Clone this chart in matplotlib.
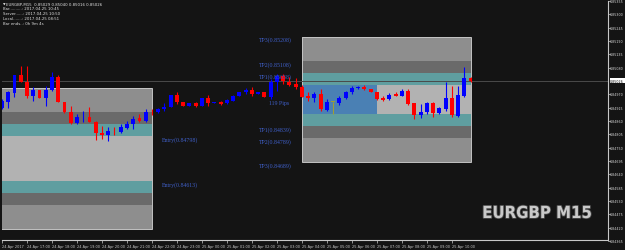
import numpy as np
import matplotlib.pyplot as plt
import matplotlib.patheffects as pe
from matplotlib.patches import Rectangle

# barre M15 EURGBP, dal 24 Apr 16:00
opens = [0.84914, 0.84938, 0.84976, 0.85050, 0.85021, 0.84963, 0.84988, 0.84955, 0.84988, 0.85042,
         0.84938, 0.84897, 0.84852, 0.84876, 0.84876, 0.84856, 0.84810, 0.84802, 0.84819, 0.84815,
         0.84831, 0.84848, 0.84872, 0.84860, 0.84897, 0.84897, 0.84910, 0.84918, 0.84967, 0.84938,
         0.84922, 0.84934, 0.84922, 0.84955, 0.84934, 0.84938, 0.84934, 0.84943, 0.84963, 0.84980,
         0.84988, 0.84971, 0.84980, 0.84959, 0.85021, 0.85046, 0.85021, 0.85013, 0.85002, 0.84963,
         0.84955, 0.84971, 0.84905, 0.84938, 0.84934, 0.84955, 0.84980, 0.84996, 0.85002, 0.84992,
         0.84980, 0.84955, 0.84951, 0.84971, 0.84963, 0.84984, 0.84934, 0.84885, 0.84897, 0.84934,
         0.84893, 0.84910, 0.84955, 0.84881, 0.84963, 0.85037]
highs = [0.84951, 0.84984, 0.85050, 0.85087, 0.85087, 0.85000, 0.84988, 0.85004, 0.85062, 0.85050,
         0.84938, 0.84922, 0.84889, 0.84901, 0.84918, 0.84860, 0.84839, 0.84835, 0.84835, 0.84848,
         0.84860, 0.84881, 0.84889, 0.84910, 0.84910, 0.84914, 0.84934, 0.84967, 0.84980, 0.84938,
         0.84934, 0.84938, 0.84955, 0.84967, 0.84938, 0.84943, 0.84951, 0.84967, 0.84980, 0.84996,
         0.85000, 0.84980, 0.84980, 0.85033, 0.85054, 0.85054, 0.85042, 0.85037, 0.85008, 0.84980,
         0.84980, 0.84992, 0.84951, 0.84938, 0.84963, 0.84984, 0.85004, 0.85004, 0.85008, 0.84992,
         0.84980, 0.84963, 0.84976, 0.84980, 0.84992, 0.84992, 0.84934, 0.84930, 0.84938, 0.84938,
         0.84918, 0.85021, 0.85004, 0.85004, 0.85083, 0.85040]
lows = [0.84910, 0.84914, 0.84959, 0.85021, 0.84955, 0.84943, 0.84955, 0.84922, 0.84984, 0.84938,
        0.84893, 0.84848, 0.84848, 0.84856, 0.84856, 0.84782, 0.84786, 0.84777, 0.84802, 0.84810,
        0.84827, 0.84827, 0.84856, 0.84856, 0.84885, 0.84893, 0.84901, 0.84918, 0.84930, 0.84922,
        0.84922, 0.84918, 0.84922, 0.84922, 0.84934, 0.84926, 0.84930, 0.84943, 0.84963, 0.84971,
        0.84963, 0.84971, 0.84959, 0.84951, 0.84984, 0.85013, 0.85004, 0.84992, 0.84959, 0.84943,
        0.84938, 0.84901, 0.84901, 0.84889, 0.84926, 0.84951, 0.84971, 0.84992, 0.84988, 0.84980,
        0.84947, 0.84943, 0.84947, 0.84963, 0.84963, 0.84926, 0.84868, 0.84872, 0.84889, 0.84876,
        0.84889, 0.84901, 0.84876, 0.84876, 0.84959, 0.85020]
closes = [0.84943, 0.84980, 0.85050, 0.85021, 0.84963, 0.84988, 0.84955, 0.84988, 0.85042, 0.84938,
          0.84897, 0.84852, 0.84876, 0.84877, 0.84856, 0.84810, 0.84802, 0.84819, 0.84818, 0.84835,
          0.84848, 0.84868, 0.84860, 0.84897, 0.84896, 0.84910, 0.84918, 0.84967, 0.84938, 0.84922,
          0.84934, 0.84922, 0.84955, 0.84934, 0.84938, 0.84930, 0.84947, 0.84963, 0.84980, 0.84988,
          0.84971, 0.84980, 0.84959, 0.85021, 0.85046, 0.85025, 0.85008, 0.85000, 0.84961, 0.84955,
          0.84971, 0.84910, 0.84938, 0.84938, 0.84955, 0.84980, 0.84996, 0.85000, 0.84992, 0.84980,
          0.84951, 0.84947, 0.84967, 0.84963, 0.84984, 0.84930, 0.84885, 0.84897, 0.84934, 0.84893,
          0.84914, 0.84955, 0.84885, 0.84967, 0.85037, 0.85026]

time_labels = ["24 Apr 2017", "24 Apr 17:00", "24 Apr 18:00", "24 Apr 19:00", "24 Apr 20:00",
               "24 Apr 21:00", "24 Apr 22:00", "24 Apr 23:00", "25 Apr 00:00", "25 Apr 01:00",
               "25 Apr 02:00", "25 Apr 03:00", "25 Apr 04:00", "25 Apr 05:00", "25 Apr 06:00",
               "25 Apr 07:00", "25 Apr 08:00", "25 Apr 09:00", "25 Apr 10:00"]
price_ticks = [0.85355, 0.85300, 0.85245, 0.85190, 0.85135, 0.85080, 0.84970, 0.84915, 0.84860,
               0.84805, 0.84750, 0.84695, 0.84640, 0.84585, 0.84530, 0.84475, 0.84420, 0.84365]
bid = 0.85026

# zone: (barra inizio, barra fine, entry alta, entry bassa)
box_left = (-8, 24, 0.84798, 0.84613)
box_right = (48, 75, 0.85008, 0.84889)
box_right_split = 60
tp_offsets = [0.0005, 0.0010, 0.0020]

header = ["EURGBP,M15  0.85029 0.85040 0.85016 0.85026",
          "Bar..........: 2017.04.25 10:45",
          "Server......: 2017.04.25 10:50",
          "Local.......: 2017.04.25 08:51",
          "Bar ends..: 0h 9m 4s"]

BG = "#141414"
MED, DARK, TEAL, LIGHT, STEEL = "#8e8e8e", "#6a6a6a", "#5f9ea0", "#b2b2b2", "#4a80b4"
TXT_BLUE = "#3f5fc8"

fig = plt.figure(figsize=(6.25, 2.51), dpi=100, facecolor=BG)
ax = fig.add_axes([2 / 625, 10 / 251, 606 / 625, 239 / 251])
ax.set_facecolor(BG)
ax.set_xlim(0.05, 97.0)
ax.set_ylim(0.84369, 0.85355)


def draw_box(box, split=None):
    x0, x1, hi, lo = box
    w = x1 - x0
    levels = [hi + tp_offsets[2], hi + tp_offsets[1], hi + tp_offsets[0], hi,
              lo, lo - tp_offsets[0], lo - tp_offsets[1], lo - tp_offsets[2]]
    cols = [MED, DARK, TEAL, LIGHT, TEAL, DARK, MED]
    for k in range(7):
        ax.add_patch(Rectangle((x0, levels[k + 1]), w, levels[k] - levels[k + 1],
                               facecolor=cols[k], edgecolor="none", zorder=1))
    if split is not None:
        ax.add_patch(Rectangle((x0, lo), split - x0, hi - lo,
                               facecolor=STEEL, edgecolor="none", zorder=1.1))
    ax.add_patch(Rectangle((x0, levels[-1]), w, levels[0] - levels[-1],
                           facecolor="none", edgecolor="#c4c4c4", lw=0.7, zorder=1.2))
    return levels


lv_left = draw_box(box_left)
lv_right = draw_box(box_right, box_right_split)

# linea prezzo corrente
ax.axhline(bid, color="#4a4a4a", lw=0.7, zorder=1.5)

# candele
idx = np.arange(len(opens))
o, h, l, c = map(np.array, (opens, highs, lows, closes))
cols = np.where(c > o, "#0000ff", np.where(c < o, "#ff0000", "#a0a030"))
ax.vlines(idx, l, h, colors=cols, lw=0.8, zorder=3)
body = np.maximum(np.abs(c - o), 0.000025)
ax.bar(idx, body, bottom=np.minimum(o, c), width=0.62, color=cols, zorder=4, linewidth=0)

# etichette TP / entry
fs = 4.2
tp_x = 46.4
for name, lv in zip(["TP3", "TP2", "TP1"], lv_right[:3]):
    ax.text(tp_x, lv, f"{name}({lv:.5f})", color=TXT_BLUE, fontsize=fs, family="Liberation Serif",
            ha="right", va="top", zorder=5)
for name, lv in zip(["TP1", "TP2", "TP3"], lv_right[5:]):
    ax.text(tp_x, lv, f"{name}({lv:.5f})", color=TXT_BLUE, fontsize=fs, family="Liberation Serif",
            ha="right", va="top", zorder=5)
pips = round((box_right[2] - box_right[3]) * 100000)
ax.text(tp_x - 0.4, (box_right[2] + box_right[3]) / 2, f"{pips} Pips", color=TXT_BLUE, fontsize=fs,
        family="Liberation Serif", ha="right", va="top", zorder=5)
for lv in (box_left[2], box_left[3]):
    ax.text(25.6, lv, f"Entry({lv:.5f})", color=TXT_BLUE, fontsize=fs, family="Liberation Serif",
            ha="left", va="top", zorder=5)

# assi
for s in ("left", "top"):
    ax.spines[s].set_visible(False)
ax.spines["right"].set_color("#c8c8c8")
ax.spines["bottom"].set_color("#c8c8c8")
ax.spines["right"].set_linewidth(0.8)
ax.spines["bottom"].set_linewidth(0.8)
ax.set_yticks([])
ax.set_xticks(np.arange(len(time_labels)) * 4)
ax.set_xticklabels(time_labels)
ax.tick_params(axis="x", colors="#c8c8c8", length=2, width=0.5, pad=1, labelsize=2.5)
for lab in ax.get_xticklabels():
    lab.set_horizontalalignment("left")

for p in price_ticks:
    ax.annotate(f"{p:.5f}", xy=(1.0, p), xycoords=("axes fraction", "data"), xytext=(1.6, 0),
                textcoords="offset points", fontsize=2.3, color="#d8d8d8", va="center", ha="left",
                annotation_clip=False)
    ax.plot([1.0, 1.004], [p, p], transform=ax.get_yaxis_transform(), color="#c8c8c8", lw=0.5,
            clip_on=False)
ax.annotate(f"{bid:.5f}", xy=(1.0, bid), xycoords=("axes fraction", "data"), xytext=(1.6, 0),
            textcoords="offset points", fontsize=2.3, color="black", va="center", ha="left",
            annotation_clip=False, bbox=dict(boxstyle="square,pad=0.2", fc="white", ec="none"))

# intestazione
for k, line in enumerate(header):
    fig.text(6 / 625 if k == 0 else 3 / 625, 1 - (4.5 + k * 4.8) / 251, line, fontsize=2.8,
             color="#e0e0e0", va="center", ha="left")
fig.text(2.5 / 625, 1 - 4.5 / 251, "\u25bc", fontsize=2.4, color="#e0e0e0", va="center")

fig.text(537 / 625, 1 - 214 / 251, "EURGBP M15", fontsize=12, weight="bold",
         family="DejaVu Sans", stretch="condensed", color="#c9c9c9", ha="center", va="center",
         path_effects=[pe.withStroke(linewidth=1.2, foreground="#4a4a4a")])

fig.savefig("out.png", dpi=100, facecolor=BG)
